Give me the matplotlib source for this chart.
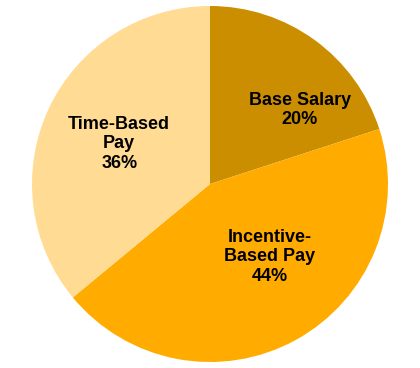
import matplotlib
matplotlib.use("Agg")
import matplotlib.pyplot as plt

categories = ["Base Salary", "Incentive-\nBased Pay", "Time-Based\nPay"]
values = [20, 44, 36]
colors = ["#CA8E00", "#FFAB00", "#FFDB94"]
label_pos = [(0.505, 0.415), (0.337, -0.41), (-0.51, 0.225)]

fig = plt.figure(figsize=(4.2, 3.68), dpi=100)
r_px = 178
cx, cy = 210, 184
ax = fig.add_axes([(cx - r_px) / 420, (368 - cy - r_px) / 368, 2 * r_px / 420, 2 * r_px / 368])
ax.pie(values, colors=colors, startangle=90, counterclock=False, radius=1,
       wedgeprops=dict(linewidth=0))
ax.set_xlim(-1, 1)
ax.set_ylim(-1, 1)
ax.set_aspect("equal")
ax.axis("off")

for cat, v, (x, y) in zip(categories, values, label_pos):
    ax.text(x, y, f"{cat}\n{v}%", ha="center", va="center", fontsize=13,
            fontweight="bold", family="Liberation Sans", linespacing=1.2, color="black")

fig.savefig("out.png", dpi=100)
